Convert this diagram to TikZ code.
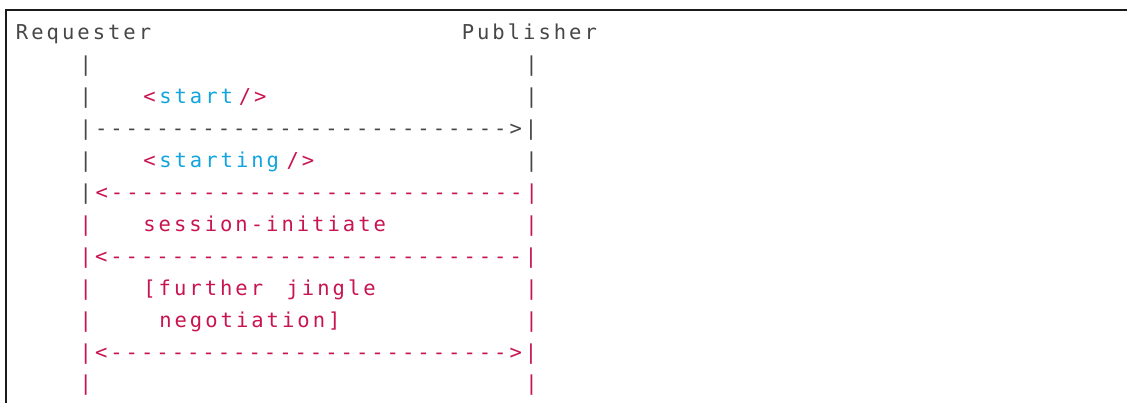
\documentclass[tikz,border=0pt]{standalone}
\usepackage{fontspec}
\newfontfamily\listingfont{DejaVu Sans Mono}[LetterSpace=14.7]
\begin{document}
\begin{tikzpicture}[x=1pt,y=-1pt,
  txt/.style={anchor=base west,inner sep=0pt,outer sep=0pt},
  font=\listingfont\fontsize{20.5}{20.5}\selectfont]
\definecolor{ink}{HTML}{474747}\definecolor{frame}{HTML}{1A1A1A}
\definecolor{tagred}{HTML}{C8154F}\definecolor{tagcyan}{HTML}{12A4DE}
\useasboundingbox (0,0) rectangle (1127,403);
\fill[white] (0,0) rectangle (1127,403);
\draw[frame,line width=1.5pt] (6,403) -- (6,10) -- (1127,10);
\begin{scope}[shift={(16,40)},x=15.92pt,y=-31.9pt]
% header
\node[txt,text=ink] (req) at (0,0) {Requester};
\node[txt,text=ink] (pub) at (28,0) {Publisher};
\node[txt,text=ink] (l1a) at (4,1) {|};
\node[txt,text=ink] (l1b) at (32,1) {|};
% <start/>
\node[txt,text=ink] (l2a) at (4,2) {|};
\node[txt,text=tagred] (st1) at (8,2) {<};
\node[txt,text=tagcyan] (st2) at (9,2) {start};
\node[txt,text=tagred] (st3) at (14,2) {/>};
\node[txt,text=ink] (l2b) at (32,2) {|};
\node[txt,text=ink] (ar3) at (4,3) {|--------------------------->|};
% <starting/>
\node[txt,text=ink] (l4a) at (4,4) {|};
\node[txt,text=tagred] (sg1) at (8,4) {<};
\node[txt,text=tagcyan] (sg2) at (9,4) {starting};
\node[txt,text=tagred] (sg3) at (17,4) {/>};
\node[txt,text=ink] (l4b) at (32,4) {|};
\node[txt,text=ink] (l5a) at (4,5) {|};
\node[txt,text=tagred] (ar5) at (5,5) {<---------------------------|};
% session-initiate
\node[txt,text=tagred] (l6a) at (4,6) {|};
\node[txt,text=tagred] (si) at (8,6) {session-initiate};
\node[txt,text=tagred] (l6b) at (32,6) {|};
\node[txt,text=tagred] (ar7) at (4,7) {|<---------------------------|};
% further negotiation
\node[txt,text=tagred] (l8a) at (4,8) {|};
\node[txt,text=tagred] (fj1) at (8,8) {[further};
\node[txt,text=tagred] (fj2) at (17,8) {jingle};
\node[txt,text=tagred] (l8b) at (32,8) {|};
\node[txt,text=tagred] (l9a) at (4,9) {|};
\node[txt,text=tagred] (neg) at (9,9) {negotiation]};
\node[txt,text=tagred] (l9b) at (32,9) {|};
\node[txt,text=tagred] (ar10) at (4,10) {|<-------------------------->|};
\node[txt,text=tagred] (l11a) at (4,11) {|};
\node[txt,text=tagred] (l11b) at (32,11) {|};
\end{scope}
\end{tikzpicture}
\end{document}
